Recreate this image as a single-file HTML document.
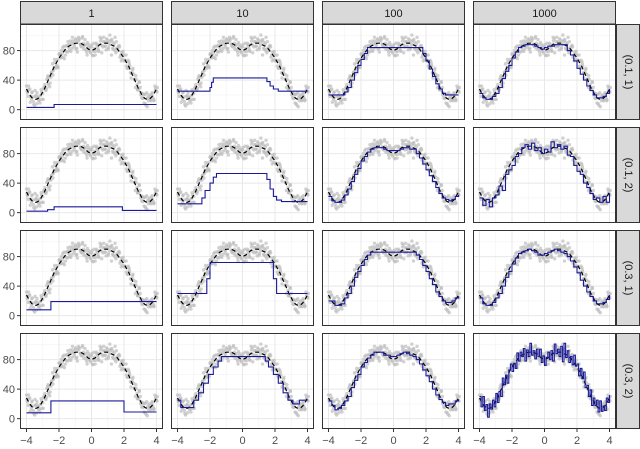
<!DOCTYPE html>
<html><head><meta charset="utf-8"><style>
html,body{margin:0;padding:0;background:#fff;}
svg{display:block;font-family:"Liberation Sans",sans-serif;}
</style></head><body>
<svg id="chart" width="640" height="449" viewBox="0 0 640 449"></svg>
<script>
// ---- data ----
const colLabels = ["1","10","100","1000"];
const rowLabels = ["(0.1, 1)","(0.1, 2)","(0.3, 1)","(0.3, 2)"];
const yTicks = [0,40,80];
const xTicks = [-4,-2,0,2,4];
// true curve, x = -4 .. 4 step 0.1
const trueY = [28,24,20,17,15,14,14,15,17,20,24,28,33,38,43,48,53,58,62,66,70,73,76,79,82,84,86,87,88,89,90,90,90,90,89,88,86,84,82,81,80,81,82,84,86,88,89,90,90,90,90,89,88,87,86,84,82,79,76,73,70,66,62,58,53,48,43,38,33,28,24,20,17,15,14,14,15,17,20,24,28];
const noiseA = [4,-6,8,-3,2,-9,5,1,-4,7,-2,3,-7,6,1,-4,9,-1,-6,2,5,-3,0,7,-8,3,-2,6,-5,1,4,-7,8,-1,-4,2,9,-6,3,-2,5,-8,1,6,-3,0,7,-5,2,-9,4,-1,6,-4,3,-7,1,8,-2,-5,4,0,-6,7,-3,2,5,-8,1,-1,6,-4,3,-7,9,-2,0,4,-5,8,-3];
const noiseB = [-5,3,-2,7,-8,4,9,-3,2,-6,5,-1,8,-4,-7,3,0,6,-2,-9,4,7,-5,1,-3,8,-6,2,5,-1,-8,3,6,-4,10,-2,-5,7,-1,4,-6,9,-3,2,-7,5,-2,8,-4,1,-6,3,7,-5,12,-1,4,-8,2,6,-3,-7,5,1,-4,8,-2,3,-6,9,-1,-5,4,-9,2,6,-3,1,-7,5,2];
const noiseC = [2,-8,10,-6,4,-12,6,-2,8,-4,10,-6,4,-8,12,-2,6,-10,4,8,-6,2,-8,10,-4,6,-2,8,-10,4,-6,12,-4,2,-8,6,-2,10,-6,4,-8,2,8,-4,6,-10,12,-2,4,-6,8,-12,14,-4,6,-8,2,-6,10,-2,4,-8,6,-4,10,-6,2,-8,6,-10,4,-2,8,-6,10,-4,2,-6,8,-2,4];
// step fits for columns 1 and 2: breakpoints and levels
const fitC1R1x = [-4,-2.3,4], fitC1R1y = [3,7];
const fitC1R2x = [-4,-2.7,-2.3,1.9,4], fitC1R2y = [2,4,8,3];
const fitC1R3x = [-4,-2.5,4], fitC1R3y = [8,19];
const fitC1R4x = [-4,-2.5,2.0,4], fitC1R4y = [8,24,9];
const fitC2R1x = [-4,-2.0,-1.9,-1.8,1.5,1.7,1.9,2.2,4], fitC2R1y = [25,30,37,43,38,32,28,25];
const fitC2R2x = [-4,-2.5,-2.3,-2.0,-1.8,-1.6,1.5,1.7,1.9,2.1,2.4,4], fitC2R2y = [12,20,30,40,48,53,45,32,22,17,15];
const fitC2R3x = [-4,-2.2,-2.0,1.9,2.1,4], fitC2R3y = [30,50,72,50,30];
const fitC2R4x = [-4,-3.8,-3.0,-2.7,-2.4,-2.1,-1.8,-1.5,-1.3,1.4,1.6,1.9,2.2,2.5,2.8,3.1,3.5,4], fitC2R4y = [25,15,25,35,48,60,70,78,84,78,70,60,48,35,25,20,25];
// fits on 0.2 grid for columns 3 and 4
const fitC3R1 = [20,20,20,20,20,24,30,40,50,60,68,76,84,84,84,84,84,84,84,84,84,84,84,84,84,84,84,84,84,76,66,55,45,35,28,22,20,20,20,20,20];
const fitC3R2 = [22,16,14,14,17,24,32,42,52,60,70,76,82,86,88,88,88,86,84,84,84,84,86,88,88,86,86,80,74,66,58,50,42,34,26,20,18,16,18,22,24];
const fitC3R3 = [20,20,14,14,16,24,30,40,52,60,68,76,82,86,86,86,86,86,86,86,86,86,86,86,86,86,86,82,76,68,60,50,42,32,26,20,18,18,20,24,26];
const fitC3R4 = [24,18,12,14,18,24,30,42,52,60,70,76,82,86,90,90,90,86,86,84,84,86,88,90,88,86,84,80,74,66,58,50,40,32,26,22,18,20,20,24,26];
const fitC4R1 = [22,16,14,14,18,22,30,42,52,60,70,78,84,86,88,88,88,86,84,82,84,86,86,88,88,88,88,80,74,66,56,48,40,32,26,20,16,16,18,22,28];
const fitC4R2 = [20,10,18,8,20,24,36,30,52,58,64,76,80,88,92,86,94,84,88,80,86,82,96,88,92,86,90,78,76,64,56,52,40,34,26,18,20,14,22,14,26];
const fitC4R3 = [24,16,14,14,18,24,30,40,52,60,70,78,84,86,88,90,88,86,82,82,84,86,88,90,88,86,84,80,74,66,58,48,40,32,26,20,16,16,18,22,28];

const svg = document.getElementById('chart');
const NS = 'http://www.w3.org/2000/svg';
function mk(tag, attrs, parent){const e=document.createElementNS(NS,tag);for(const k in attrs)e.setAttribute(k,attrs[k]);(parent||svg).appendChild(e);return e;}

const colLeft=[20,171,322,473], PW=143;
const rowTop=[24,127,230,333], PH=96;
const X0=-4.4,X1=4.4,Y0=-14,Y1=116;
function sx(c,x){return colLeft[c]+(x-X0)/(X1-X0)*PW;}
function sy(r,y){return rowTop[r]+PH-(y-Y0)/(Y1-Y0)*PH;}

function stepPath(c,r,xs,ys){let d='';for(let i=0;i<ys.length;i++){const a=sx(c,xs[i]),b=sx(c,xs[i+1]),y=sy(r,ys[i]);d+=(i===0?'M':'L')+a.toFixed(1)+','+y.toFixed(1)+'L'+b.toFixed(1)+','+y.toFixed(1);}return d;}
function gridStep(c,r,vals,step){let d='';for(let i=0;i<vals.length;i++){const x=-4+i*step;const a=sx(c,x),b=sx(c,Math.min(4,x+step)),y=sy(r,vals[i]);d+=(i===0?'M':'L')+a.toFixed(1)+','+y.toFixed(1)+'L'+b.toFixed(1)+','+y.toFixed(1);}return d;}

const fits = [
 [ {t:'s',x:fitC1R1x,y:fitC1R1y},{t:'s',x:fitC2R1x,y:fitC2R1y},{t:'g',v:fitC3R1},{t:'g',v:fitC4R1} ],
 [ {t:'s',x:fitC1R2x,y:fitC1R2y},{t:'s',x:fitC2R2x,y:fitC2R2y},{t:'g',v:fitC3R2},{t:'g',v:fitC4R2} ],
 [ {t:'s',x:fitC1R3x,y:fitC1R3y},{t:'s',x:fitC2R3x,y:fitC2R3y},{t:'g',v:fitC3R3},{t:'g',v:fitC4R3} ],
 [ {t:'s',x:fitC1R4x,y:fitC1R4y},{t:'s',x:fitC2R4x,y:fitC2R4y},{t:'g',v:fitC3R4},{t:'n'} ]
];

for(let r=0;r<4;r++){
 for(let c=0;c<4;c++){
  const g=mk('g',{});
  
  
  mk('rect',{x:colLeft[c],y:rowTop[r],width:PW,height:PH,fill:'#fff'},g);
  [-3,-1,1,3].forEach(v=>mk('line',{x1:sx(c,v),x2:sx(c,v),y1:rowTop[r],y2:rowTop[r]+PH,stroke:'#f2f2f2','stroke-width':0.6},g));
  [20,60,100].forEach(v=>mk('line',{x1:colLeft[c],x2:colLeft[c]+PW,y1:sy(r,v),y2:sy(r,v),stroke:'#f2f2f2','stroke-width':0.6},g));
  xTicks.forEach(v=>mk('line',{x1:sx(c,v),x2:sx(c,v),y1:rowTop[r],y2:rowTop[r]+PH,stroke:'#e8e8e8','stroke-width':1},g));
  yTicks.forEach(v=>mk('line',{x1:colLeft[c],x2:colLeft[c]+PW,y1:sy(r,v),y2:sy(r,v),stroke:'#e8e8e8','stroke-width':1},g));
  const pts=mk('g',{fill:'#bdbdbd','fill-opacity':0.7},g);
  
  
  for(let i=0;i<trueY.length;i++){
   const x=-4+i*0.1;
   mk('circle',{cx:sx(c,x),cy:sy(r,trueY[i]+(noiseA[i]||0)),r:1.7},pts);
   mk('circle',{cx:sx(c,x+0.05),cy:sy(r,trueY[i]+(noiseB[i]||0)),r:1.7},pts);
   mk('circle',{cx:sx(c,x+0.03),cy:sy(r,trueY[i]-(noiseC[i]||0)),r:1.7},pts);
  }
  let d='';trueY.forEach((v,i)=>{d+=(i?'L':'M')+sx(c,-4+i*0.1).toFixed(1)+','+sy(r,v).toFixed(1);});
  const tl=mk('path',{d:d,fill:'none',stroke:'#000','stroke-width':1.2,'stroke-dasharray':'4,3'},g);
  
  
  const f=fits[r][c];let fd;
  if(f.t==='s')fd=stepPath(c,r,f.x,f.y);
  else if(f.t==='g')fd=gridStep(c,r,f.v,0.2);
  else fd=gridStep(c,r,trueY.map((v,i)=>v+(noiseC[i]||0)),0.1);
  const fl=mk('path',{d:fd,fill:'none',stroke:'#1a1a99','stroke-width':1.1},g);
  
  
  mk('rect',{x:colLeft[c]+0.5,y:rowTop[r]+0.5,width:PW-1,height:PH-1,fill:'none',stroke:'#333','stroke-width':1},g);
 }
 yTicks.forEach(v=>{
  mk('line',{x1:17,x2:20,y1:sy(r,v),y2:sy(r,v),stroke:'#333','stroke-width':1});
  const t=mk('text',{x:15,y:sy(r,v)+4,'text-anchor':'end','font-size':11,fill:'#4d4d4d'});
  t.textContent=v;
  
  
 });
 const sg=mk('g',{});
 
 
 mk('rect',{x:616.5,y:rowTop[r]+0.5,width:23,height:PH-1,fill:'#d9d9d9',stroke:'#333','stroke-width':1},sg);
 const cx=628,cy=rowTop[r]+PH/2;
 const st=mk('text',{x:cx,y:cy,'text-anchor':'middle','dominant-baseline':'central','font-size':11,fill:'#1a1a1a',transform:'rotate(90 '+cx+' '+cy+')'},sg);
 st.textContent=rowLabels[r];
}
for(let c=0;c<4;c++){
 const sg=mk('g',{});
 
 
 mk('rect',{x:colLeft[c]+0.5,y:1.5,width:PW-1,height:22.5,fill:'#d9d9d9',stroke:'#333','stroke-width':1},sg);
 const t=mk('text',{x:colLeft[c]+PW/2,y:17,'text-anchor':'middle','font-size':11,fill:'#1a1a1a'},sg);
 t.textContent=colLabels[c];
 xTicks.forEach(v=>{
  mk('line',{x1:sx(c,v),x2:sx(c,v),y1:429,y2:432,stroke:'#333','stroke-width':1});
  const xt=mk('text',{x:sx(c,v),y:444,'text-anchor':'middle','font-size':11,fill:'#4d4d4d'});
  xt.textContent=v<0?'\u2212'+Math.abs(v):v;
  
  
 });
}
</script>
</body></html>
